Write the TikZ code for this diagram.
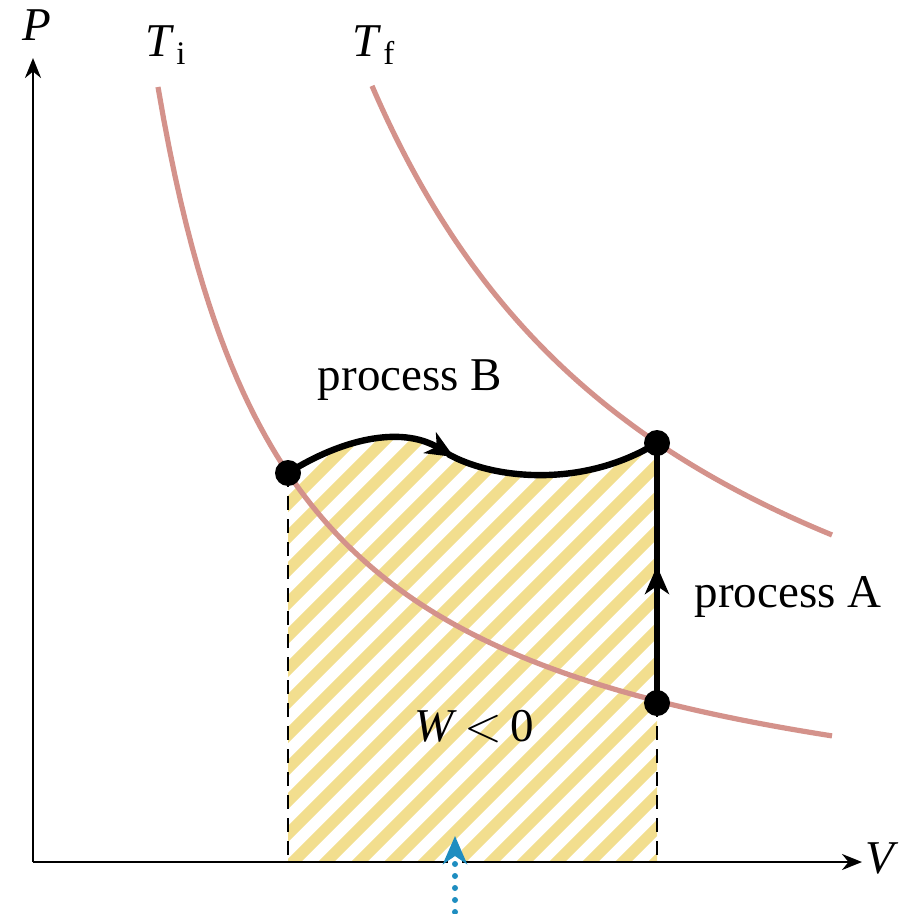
\documentclass[tikz,border=0pt]{standalone}
\usepackage{fontspec}
\setmainfont{Liberation Serif}
\usetikzlibrary{arrows.meta}
\definecolor{isored}{HTML}{D4928B}
\definecolor{hatchy}{HTML}{F2DE8E}
\definecolor{arrblue}{HTML}{1E8DC0}
\begin{document}
\begin{tikzpicture}[x=0.5pt, y=-0.5pt, every node/.style={font=\fontsize{23.5}{28}\selectfont}]
  \tikzstyle{dot}=[fill=black, circle, inner sep=0pt, minimum size=13pt]
  \tikzstyle{iso}=[isored, line width=2.6pt]
  \tikzstyle{proc}=[line width=3.2pt, line join=round]
  \tikzstyle{stripe}=[hatchy, line width=5.8pt]
  \useasboundingbox (0,0) rectangle (904,914);
  \coordinate (O)  at (33, 862);
  \coordinate (Pt) at (33, 58);
  \coordinate (Vt) at (862, 862);
  \coordinate (i)  at (288, 473);
  \coordinate (f)  at (657, 443);
  \coordinate (a)  at (657, 703);
  \coordinate (ib) at (288, 862);
  \coordinate (ab) at (657, 862);
  % shaded work area
  \begin{scope}
    \clip (ib) -- (i) .. controls (340, 440) and (400, 425) .. (448, 454)
      .. controls (490, 478) and (580, 490) .. (f) -- (ab) -- cycle;
    \foreach \c in {-240, -207, ..., 700}
      \draw[stripe] (\c, 900) -- ++(500, -500);
  \end{scope}
  \draw[line width=0.7pt, dash pattern=on 7pt off 4.5pt] (i) -- (ib);
  \draw[line width=0.7pt, dash pattern=on 7pt off 4.5pt] (a) -- (ab);
  % isotherms
  \draw[iso] plot[domain=158:832, samples=120] (\x, {862 - 1015.25/(\x/100 - 0.27)});
  \draw[iso] plot[domain=372:832, samples=120] (\x, {862 - 2600/(\x/100 - 0.37)});
  % axes
  \draw[line width=1.3pt, -{Stealth[length=10pt, width=8pt]}] (O) -- (Pt);
  \draw[line width=1.3pt, -{Stealth[length=10pt, width=8pt]}] (O) -- (Vt);
  \node (P) at (37, 25) {\textit{P}};
  \node (V) at (882, 858) {\textit{V}};
  \node (Ti) at (166, 45) {\textit{T}\kern1pt\textsubscript{i}};
  \node (Tf) at (374, 45) {\textit{T}\kern1pt\textsubscript{f}};
  % processes
  \draw[proc, -{Stealth[length=14pt, width=12pt, inset=4pt]}] (i)
    .. controls (340, 440) and (400, 425) .. (454, 457);
  \draw[proc] (448, 454) .. controls (490, 478) and (580, 490) .. (f);
  \draw[proc, -{Stealth[length=14pt, width=12pt, inset=4pt]}] (a) -- (657, 566);
  \draw[proc] (657, 575) -- (f);
  \node[dot] (ni) at (i) {};
  \node[dot] (nf) at (f) {};
  \node[dot] (na) at (a) {};
  \node (lB) at (410, 380) {process B};
  \node (lA) at (788, 597) {process A};
  \node (W) at (474, 727) {\textit{W}\,$<$\,0};
  % pointer
  \coordinate (bb) at (455, 912);
  \coordinate (bt) at (455, 836);
  \draw[white, line width=7pt] (455, 850) -- (455, 872);
  \draw[arrblue, line width=3pt, line cap=round, dash pattern=on 0pt off 6pt,
    -{Stealth[length=14pt, width=12pt, inset=4pt]}] (bb) -- (bt);
\end{tikzpicture}
\end{document}
